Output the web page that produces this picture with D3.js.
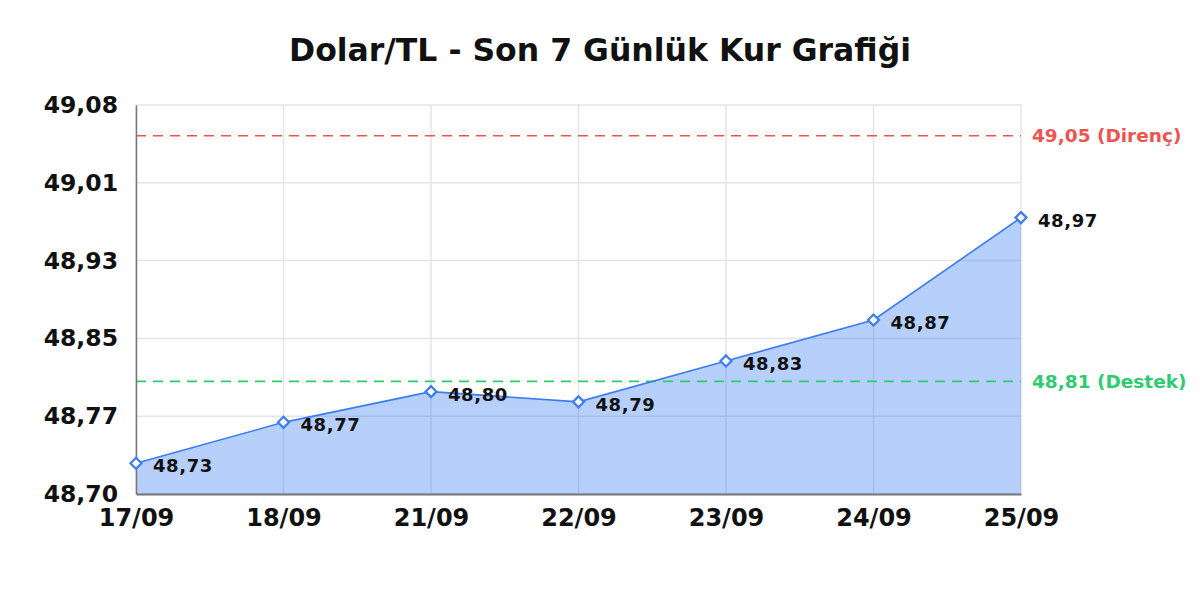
<!DOCTYPE html>
<html>
<head>
<meta charset="utf-8">
<script src="https://cdn.jsdelivr.net/npm/d3@7/dist/d3.min.js"></script>
<style>
  html, body { margin: 0; padding: 0; background: #fff; }
  svg { display: block; font-family: "DejaVu Sans", sans-serif; }
</style>
</head>
<body>
<svg id="chart" width="1200" height="600"></svg>
<script>
const categories = ["17/09", "18/09", "21/09", "22/09", "23/09", "24/09", "25/09"];
const values = [48.73, 48.77, 48.80, 48.79, 48.83, 48.87, 48.97];
const valueLabels = ["48,73", "48,77", "48,80", "48,79", "48,83", "48,87", "48,97"];
const yTickLabels = ["48,70", "48,77", "48,85", "48,93", "49,01", "49,08"];
const refValues = [49.05, 48.81];
const refLabels = ["49,05 (Direnç)", "48,81 (Destek)"];
const refColors = ["#ef5350", "#2ecc71"];
const yDomain = [48.70, 49.08];
const title = "Dolar/TL - Son 7 Günlük Kur Grafiği";

const svg = d3.select("#chart");
const margin = { left: 136, right: 179, top: 105, bottom: 106 };
const W = 1200, H = 600;

const x = d3.scalePoint().domain(categories).range([margin.left, W - margin.right]);
const y = d3.scaleLinear().domain(yDomain).range([H - margin.bottom, margin.top]);
const yTicks = d3.range(yTickLabels.length).map(i => yDomain[0] + i * (yDomain[1] - yDomain[0]) / (yTickLabels.length - 1));

// Title
svg.append("text")
  .attr("x", 600).attr("y", 61)
  .attr("text-anchor", "middle")
  .attr("font-size", 31.5).attr("font-weight", "bold").attr("fill", "#111")
  .text(title);

// Grid
const grid = svg.append("g");
grid.selectAll("line.h").data(yTicks).join("line")
  .attr("x1", margin.left).attr("x2", W - margin.right)
  .attr("y1", d => y(d)).attr("y2", d => y(d))
  .attr("stroke", "#e5e5e5").attr("stroke-width", 1.5);
grid.selectAll("line.v").data(categories).join("line")
  .attr("x1", d => x(d)).attr("x2", d => x(d))
  .attr("y1", margin.top).attr("y2", H - margin.bottom)
  .attr("stroke", "#e5e5e5").attr("stroke-width", 1.5);

const pts = categories.map((c, i) => ({ c, v: values[i], l: valueLabels[i] }));

// Area
svg.append("path")
  .datum(pts)
  .attr("d", d3.area().x(d => x(d.c)).y0(y(yDomain[0])).y1(d => y(d.v)))
  .attr("fill", "#3b7cf4").attr("fill-opacity", 0.37);

// Reference lines
refValues.forEach((rv, i) => {
  svg.append("line")
    .attr("x1", margin.left).attr("x2", W - margin.right)
    .attr("y1", y(rv)).attr("y2", y(rv))
    .attr("stroke", refColors[i]).attr("stroke-width", 1.6)
    .attr("stroke-dasharray", "10,7");
  svg.append("text")
    .attr("x", W - margin.right + 11).attr("y", y(rv))
    .attr("dy", "0.36em")
    .attr("font-size", 18.5).attr("font-weight", "bold")
    .attr("fill", refColors[i])
    .text(refLabels[i]);
});

// Line
svg.append("path")
  .datum(pts)
  .attr("d", d3.line().x(d => x(d.c)).y(d => y(d.v)))
  .attr("fill", "none").attr("stroke", "#3b7cf4").attr("stroke-width", 1.6);

// Axes
const yAxis = d3.axisLeft(y).tickValues(yTicks)
  .tickFormat((d, i) => yTickLabels[i]).tickSize(0).tickPadding(18);
const gy = svg.append("g").attr("transform", `translate(${margin.left},0)`).call(yAxis);
gy.select(".domain").attr("stroke", "#777").attr("stroke-width", 1.5);
gy.selectAll("text").attr("font-size", 23.5).attr("font-weight", "bold").attr("fill", "#111")
  .attr("font-family", "DejaVu Sans");

const xAxis = d3.axisBottom(x).tickSize(0).tickPadding(15);
const gx = svg.append("g").attr("transform", `translate(0,${H - margin.bottom})`).call(xAxis);
gx.select(".domain").attr("stroke", "#777").attr("stroke-width", 2);
gx.selectAll("text").attr("font-size", 24).attr("font-weight", "bold").attr("fill", "#111")
  .attr("font-family", "DejaVu Sans");

// Markers
svg.selectAll("path.marker").data(pts).join("path")
  .attr("class", "marker")
  .attr("transform", d => `translate(${x(d.c)},${y(d.v)})`)
  .attr("d", "M0,-5.5L5.5,0L0,5.5L-5.5,0Z")
  .attr("fill", "#fff").attr("stroke", "#3b7cf4").attr("stroke-width", 2.2);

// Value labels
svg.selectAll("text.val").data(pts).join("text")
  .attr("class", "val")
  .attr("x", d => x(d.c) + 17).attr("y", d => y(d.v))
  .attr("dy", "0.5em")
  .attr("font-size", 18).attr("font-weight", "bold").attr("fill", "#111")
  .attr("letter-spacing", 0.6)
  .text(d => d.l);
</script>
</body>
</html>
